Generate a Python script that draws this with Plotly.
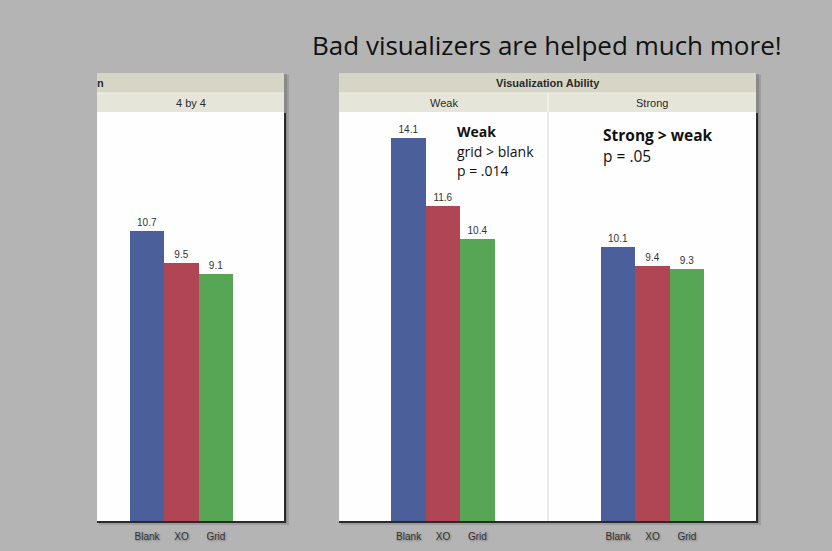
import plotly.graph_objects as go

W, H = 832, 551

categories = ["Blank", "XO", "Grid"]
four_by_four = [10.7, 9.5, 9.1]
weak_vals = [14.1, 11.6, 10.4]
strong_vals = [10.1, 9.4, 9.3]
bar_colors = ["#4b5f9b", "#b04653", "#56a655"]

panel_titles = ["4 by 4", "Weak", "Strong"]
group_title = "Visualization Ability"
main_title = "Bad visualizers are helped much more!"


def px(x):
    return x / W


def py(y):
    return 1 - y / H


fig = go.Figure()

series = [four_by_four, weak_vals, strong_vals]
axes = [("x", "y"), ("x2", "y2"), ("x3", "y3")]
for vals, (xa, ya) in zip(series, axes):
    fig.add_trace(go.Bar(
        x=categories, y=vals, xaxis=xa, yaxis=ya,
        marker=dict(color=bar_colors, line=dict(width=0)),
        width=1.0,
        text=[f"{v:.1f}" for v in vals], textposition="outside",
        textfont=dict(family="Liberation Sans Narrow, Liberation Sans, Arial", size=10, color="#333333"),
        cliponaxis=False, showlegend=False, hoverinfo="skip",
    ))

# panel geometry (pixels)
y_top_plot, y_bot_plot = 112, 521
domains = [(97, 284), (339, 548), (548, 756)]
ranges = [(-1.456, 3.98), (-2.023, 4.05), (-2.038, 4.01)]
ymax = (y_bot_plot - y_top_plot) / 27.15

tickfont = dict(family="Liberation Sans Narrow, Liberation Sans, Arial", size=10,
                color="#333333", shadow="1px 1px 2px #777777")
for i, ((d0, d1), rng) in enumerate(zip(domains, ranges)):
    sfx = "" if i == 0 else str(i + 1)
    fig.update_layout(**{
        f"xaxis{sfx}": dict(domain=[px(d0), px(d1)], range=list(rng), showgrid=False,
                            zeroline=False, showline=False, ticks="", tickfont=tickfont,
                            anchor=f"y{sfx}", fixedrange=True, ticklabelstandoff=8),
        f"yaxis{sfx}": dict(domain=[py(y_bot_plot), py(y_top_plot)], range=[0, ymax],
                            visible=False, anchor=f"x{sfx}", fixedrange=True),
    })

shapes = []
HDR_DARK = "#d7d6c6"
HDR_LIGHT = "#e5e6d9"


def panel(x0, x1):
    # soft shadow
    shapes.append(dict(type="rect", xref="paper", yref="paper", layer="below",
                       x0=px(x0 + 2), x1=px(x1 + 5), y0=py(525), y1=py(75),
                       fillcolor="#8e8e8e", line=dict(width=0), opacity=0.6))
    shapes.append(dict(type="rect", xref="paper", yref="paper", layer="below",
                       x0=px(x0 + 1), x1=px(x1 + 3), y0=py(523), y1=py(74),
                       fillcolor="#7a7a7a", line=dict(width=0), opacity=0.6))
    # header rows
    shapes.append(dict(type="rect", xref="paper", yref="paper", layer="below",
                       x0=px(x0), x1=px(x1), y0=py(93), y1=py(73),
                       fillcolor=HDR_DARK, line=dict(width=0)))
    shapes.append(dict(type="rect", xref="paper", yref="paper", layer="below",
                       x0=px(x0), x1=px(x1), y0=py(112), y1=py(93),
                       fillcolor=HDR_LIGHT, line=dict(width=0)))
    # plot area
    shapes.append(dict(type="rect", xref="paper", yref="paper", layer="below",
                       x0=px(x0), x1=px(x1), y0=py(522), y1=py(112),
                       fillcolor="#fefefe", line=dict(width=0)))
    # dark border right & bottom
    shapes.append(dict(type="line", xref="paper", yref="paper", layer="below",
                       x0=px(x1 + 1), x1=px(x1 + 1), y0=py(523), y1=py(113),
                       line=dict(color="#2a2a2a", width=2)))
    shapes.append(dict(type="line", xref="paper", yref="paper", layer="below",
                       x0=px(x0), x1=px(x1 + 2), y0=py(522), y1=py(522),
                       line=dict(color="#2a2a2a", width=2)))


panel(97, 284)
panel(339, 756)
# divider between Weak and Strong
shapes.append(dict(type="line", xref="paper", yref="paper", layer="below",
                   x0=px(548), x1=px(548), y0=py(521), y1=py(112),
                   line=dict(color="#e6e6e6", width=1.5)))
shapes.append(dict(type="line", xref="paper", yref="paper", layer="below",
                   x0=px(548), x1=px(548), y0=py(112), y1=py(93),
                   line=dict(color="#f4f4ee", width=1.5)))
# separator lines between header rows
for x0, x1 in [(97, 284), (339, 756)]:
    shapes.append(dict(type="line", xref="paper", yref="paper", layer="below",
                       x0=px(x0), x1=px(x1), y0=py(93), y1=py(93),
                       line=dict(color="#f0f0e8", width=1)))

hdr_font = dict(family="Liberation Sans Narrow, Liberation Sans, Arial", size=11, color="#2a2a2a")
annotations = [
    dict(text=main_title, x=px(310), y=py(45), xanchor="left", yanchor="middle",
         font=dict(family="Open Sans", size=26, color="#111111")),
    dict(text="<b>n</b>", x=px(95), y=py(83), xanchor="left", yanchor="middle",
         font=hdr_font),
    dict(text=f"<b>{group_title}</b>", x=px(548), y=py(83), xanchor="center", yanchor="middle",
         font=hdr_font),
    dict(text=panel_titles[0], x=px(191), y=py(102.5), xanchor="center", yanchor="middle", font=hdr_font),
    dict(text=panel_titles[1], x=px(443.5), y=py(102.5), xanchor="center", yanchor="middle", font=hdr_font),
    dict(text=panel_titles[2], x=px(652), y=py(102.5), xanchor="center", yanchor="middle", font=hdr_font),
]

notes = [
    ("<b>Weak</b>", 455, 131, 14),
    ("grid &gt; blank", 455, 151, 14),
    ("p = .014", 455, 171, 14),
    ("<b>Strong &gt; weak</b>", 601, 135, 15.5),
    ("p = .05", 601, 156, 15.5),
]
for t, x, y, s in notes:
    annotations.append(dict(text=t, x=px(x), y=py(y), xanchor="left", yanchor="middle",
                            font=dict(family="Open Sans", size=s, color="#111111")))

for a in annotations:
    a.update(xref="paper", yref="paper", showarrow=False)

fig.update_layout(
    width=W, height=H, margin=dict(l=0, r=0, t=0, b=0),
    paper_bgcolor="#b4b4b4", plot_bgcolor="rgba(0,0,0,0)",
    bargap=0, shapes=shapes, annotations=annotations,
)

fig.write_html("out.html", config={"displayModeBar": False},
               post_script="document.body.style.margin='0';document.body.style.background='#b4b4b4';")
